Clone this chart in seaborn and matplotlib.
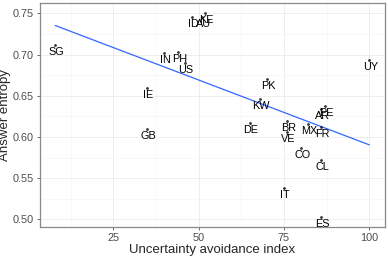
import matplotlib
matplotlib.use("Agg")
import matplotlib.pyplot as plt
import seaborn as sns
import pandas as pd
from matplotlib.ticker import MultipleLocator

countries = ["SG", "ID", "AU", "KE", "IN", "PH", "US", "IE", "GB", "UY", "PK", "KW",
             "PE", "AR", "DE", "BR", "VE", "MX", "FR", "CO", "CL", "IT", "ES"]
uai = [8, 48, 51, 52, 40, 44, 46, 35, 35, 100, 70, 68,
       87, 86, 65, 76, 76, 82, 86, 80, 86, 75, 86]
entropy = [0.712, 0.745, 0.746, 0.750, 0.7015, 0.703, 0.690, 0.659, 0.610, 0.693, 0.670, 0.646,
           0.638, 0.634, 0.617, 0.619, 0.606, 0.616, 0.612, 0.586, 0.572, 0.538, 0.503]

df = pd.DataFrame({"country": countries, "uai": uai, "entropy": entropy})

sns.set_theme(style="whitegrid")
plt.rcParams["font.family"] = ["Liberation Sans", "DejaVu Sans"]

fig = plt.figure(figsize=(3.88, 2.57), dpi=100)
ax = fig.add_axes([39.5 / 388, 1 - 227.3 / 257, (385 - 39.5) / 388, (227.3 - 2.7) / 257])

sns.regplot(data=df, x="uai", y="entropy", ci=None, ax=ax,
            scatter_kws=dict(s=4, color="black", linewidths=0, zorder=3),
            line_kws=dict(color="#3366FF", lw=0.9, zorder=2))

for c, xv, yv in zip(df["country"], df["uai"], df["entropy"]):
    ax.annotate(c, (xv, yv), xytext=(0.8, -5.0), textcoords="offset points",
                ha="center", va="center", fontsize=7.8, color="black", zorder=4)

ax.set_xlim(3.4, 104.6)
ax.set_ylim(0.4903, 0.7629)
ax.set_xticks([25, 50, 75, 100])
ax.set_yticks([0.50, 0.55, 0.60, 0.65, 0.70, 0.75])
ax.set_yticklabels(["0.50", "0.55", "0.60", "0.65", "0.70", "0.75"])
ax.xaxis.set_minor_locator(MultipleLocator(12.5))
ax.yaxis.set_minor_locator(MultipleLocator(0.025))

ax.set_facecolor("white")
ax.grid(which="major", color="#EBEBEB", lw=0.6)
ax.grid(which="minor", color="#F4F4F4", lw=0.4)
ax.set_axisbelow(True)
for s in ax.spines.values():
    s.set_color("#888888")
    s.set_linewidth(0.9)

ax.tick_params(which="major", length=2.5, width=0.6, color="#555555",
               labelsize=7.8, labelcolor="#4D4D4D", pad=1.5, bottom=True, left=True)
ax.tick_params(which="minor", length=0)
ax.set_xlabel("Uncertainty avoidance index", fontsize=9.5, labelpad=0.5)
ax.set_ylabel("Answer entropy", fontsize=9.5, labelpad=1.5)

fig.savefig("out.png", dpi=100, facecolor="white")
